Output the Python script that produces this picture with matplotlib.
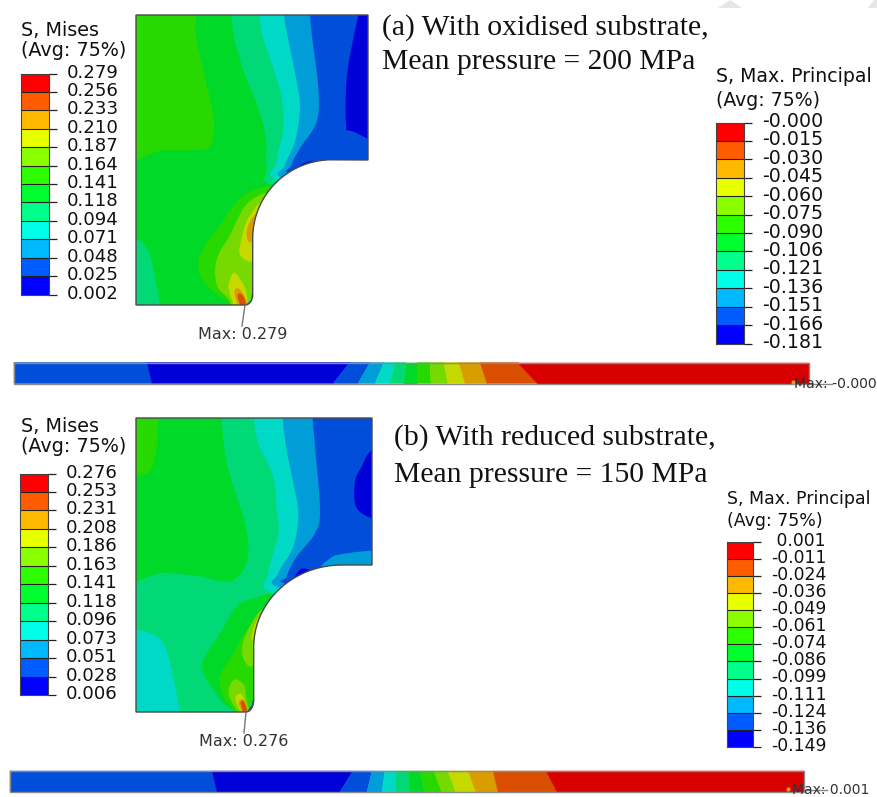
# Abaqus contour plots of the two substrate cases, redrawn on a pixel axis.
import numpy as np
import matplotlib
matplotlib.use("Agg")
import matplotlib.pyplot as plt
from matplotlib.patches import Polygon
from matplotlib.transforms import ScaledTranslation

# Abaqus rainbow, low to high
legend_colors = ['#0000FF', '#005CFF', '#00B9FF', '#00FFE8', '#00FF8B', '#00FF2E',
                 '#2EFF00', '#8BFF00', '#E8FF00', '#FFB900', '#FF5C00', '#FF0000']
# same bands as they look in the model (darker)
band_colors = ['#0000D9', '#004ED9', '#009DD9', '#00D9C5', '#00D976', '#00D927',
               '#27D900', '#76D900', '#C5D900', '#D99D00', '#D94E00', '#D90000']

# legend tick labels, top to bottom
mises_a = ['0.279', '0.256', '0.233', '0.210', '0.187', '0.164', '0.141',
           '0.118', '0.094', '0.071', '0.048', '0.025', '0.002']
mises_b = ['0.276', '0.253', '0.231', '0.208', '0.186', '0.163', '0.141',
           '0.118', '0.096', '0.073', '0.051', '0.028', '0.006']
principal_a = ['-0.000', '-0.015', '-0.030', '-0.045', '-0.060', '-0.075', '-0.090',
               '-0.106', '-0.121', '-0.136', '-0.151', '-0.166', '-0.181']
principal_b = ['0.001', '-0.011', '-0.024', '-0.036', '-0.049', '-0.061', '-0.074',
               '-0.086', '-0.099', '-0.111', '-0.124', '-0.136', '-0.149']

# Contour bands as (band index, outline). Painted in order, clipped to the part.
# Outline points are read in pixels of a 3x crop of each part.
contours_a = [
    (5, [(-60, -60), (800, -60), (800, 1000), (-60, 1000)]),
    (6, [(-60, -60), (195, -60), (195, 60), (205, 130), (228, 230), (250, 330), (250, 395), (225, 432), (100, 436), (-60, 437)]),
    (4, [(303, -60), (305, 30), (315, 110), (345, 210), (385, 310), (408, 400), (410, 490), (440, 545), (800, 600), (800, -60)]),
    (3, [(386, -60), (388, 30), (400, 100), (430, 190), (455, 280), (460, 370), (440, 470), (450, 530), (800, 600), (800, -60)]),
    (2, [(460, -60), (462, 30), (480, 130), (500, 230), (510, 310), (495, 410), (465, 480), (470, 525), (800, 600), (800, -60)]),
    (1, [(538, -60), (540, 30), (548, 110), (565, 250), (560, 350), (510, 430), (485, 480), (495, 515), (800, 600), (800, -60)]),
    (0, [(700, -60), (685, 30), (670, 100), (650, 220), (648, 355), (665, 378), (800, 385), (800, -60)]),
    (0, [(500, 495), (520, 475), (555, 468), (560, 485)]),
    (4, [(-60, 700), (18, 705), (40, 715), (60, 750), (75, 820), (90, 900), (95, 980), (-60, 980)]),
    (6, [(440, 548), (370, 555), (320, 590), (270, 660), (225, 720), (205, 775), (220, 830), (270, 875), (300, 900), (320, 980), (420, 980), (420, 640)]),
    (7, [(425, 568), (380, 575), (340, 610), (300, 690), (265, 750), (255, 800), (265, 850), (300, 890), (330, 980), (420, 980), (420, 640)]),
    (8, [(400, 590), (355, 640), (335, 700), (330, 750), (375, 768), (400, 690)]),
    (9, [(400, 615), (365, 640), (350, 680), (358, 712), (380, 690)]),
    (8, [(298, 830), (312, 803), (332, 825), (348, 860), (360, 960), (330, 950), (298, 860)]),
    (9, [(313, 862), (328, 852), (350, 890), (355, 950), (335, 930)]),
    (10, [(322, 872), (335, 868), (347, 893), (350, 930), (335, 910)]),
    (2, [(368, 865), (362, 885), (350, 900), (360, 930), (400, 880)]),
]
contours_b = [
    (4, [(-60, -60), (800, -60), (800, 1000), (-60, 1000)]),
    (5, [(-60, -60), (275, -60), (275, 25), (285, 130), (310, 230), (345, 340), (355, 420), (340, 480), (295, 515), (200, 498), (100, 488), (-60, 480)]),
    (6, [(-60, -60), (88, -60), (85, 25), (80, 100), (65, 175), (18, 200), (-60, 210)]),
    (3, [(-60, 655), (18, 660), (60, 670), (100, 700), (125, 780), (150, 905), (165, 985), (-60, 985)]),
    (3, [(370, -60), (372, 25), (385, 100), (430, 200), (440, 300), (445, 370), (415, 490), (435, 550), (800, 600), (800, -60)]),
    (2, [(456, -60), (458, 25), (470, 120), (490, 220), (505, 310), (490, 410), (445, 490), (455, 535), (800, 600), (800, -60)]),
    (1, [(546, -60), (548, 25), (555, 110), (570, 300), (555, 370), (500, 440), (470, 500), (478, 525), (800, 600), (800, -60)]),
    (0, [(800, 80), (725, 120), (695, 170), (675, 215), (678, 290), (725, 325), (800, 340)]),
    (2, [(580, 490), (600, 445), (650, 430), (725, 422), (800, 420), (800, 490)]),
    (0, [(495, 500), (515, 476), (545, 485), (510, 500)]),
    (5, [(440, 555), (370, 565), (320, 590), (270, 670), (220, 750), (225, 800), (280, 880), (310, 905), (330, 985), (420, 985), (420, 650)]),
    (6, [(400, 600), (350, 660), (310, 730), (270, 800), (280, 860), (310, 900), (335, 985), (420, 985), (420, 700)]),
    (7, [(400, 600), (365, 640), (338, 700), (342, 750), (368, 768), (400, 700)]),
    (7, [(298, 830), (315, 808), (342, 825), (348, 860), (365, 960), (320, 900), (298, 860)]),
    (8, [(395, 610), (372, 650), (366, 692), (385, 650)]),
    (8, [(316, 866), (335, 852), (352, 900), (360, 950), (335, 910)]),
    (9, [(326, 878), (340, 868), (352, 900), (352, 935), (338, 910)]),
    (10, [(332, 880), (342, 875), (352, 905), (350, 930)]),
    (1, [(372, 870), (366, 885), (355, 903), (366, 930), (410, 890)]),
]

# Strip along the interface: band order and its slanted edges, top and bottom.
strip_bands = [1, 0, 1, 2, 3, 4, 5, 6, 7, 8, 9, 10, 11]
strip_a_top = [147, 350, 370, 384, 395, 406, 417, 430, 444, 459, 480, 518]
strip_a_bottom = [152, 333, 358, 375, 390, 404, 417, 431, 448, 465, 487, 538]
strip_b_top = [212, 353, 372, 385, 396, 408, 420, 434, 448, 468, 493, 546]
strip_b_bottom = [217, 340, 367, 382, 396, 410, 425, 442, 456, 476, 498, 557]

W, H = 878, 797
OUTLINE = '#4a4a4a'


def smooth(points, n=8):
    # closed Catmull-Rom through the read points, contours have no sharp corners
    p = np.array(points, dtype=float)
    if len(p) == 4 and p.min() < 0 and p.max() > 800:
        return p
    t = np.linspace(0, 1, n, endpoint=False)[:, None]
    out = []
    for i in range(len(p)):
        p0, p1, p2, p3 = p[i - 1], p[i], p[(i + 1) % len(p)], p[(i + 2) % len(p)]
        out.append(0.5 * (2 * p1 + (p2 - p0) * t + (2 * p0 - 5 * p1 + 4 * p2 - p3) * t ** 2
                          + (3 * p1 - p0 - 3 * p2 + p3) * t ** 3))
    return np.vstack(out)


def part_outline(left, top, right, step, cx, cy, rx, ry, notch_end, bottom, bottom_x):
    t = np.linspace(-np.pi / 2, -np.pi, 50)
    arc = np.column_stack([cx + rx * np.cos(t), cy + ry * np.sin(t)])
    notch_x = cx - rx
    t2 = np.linspace(0, np.pi / 2, 12)
    fillet = np.column_stack([bottom_x + (notch_x - bottom_x) * np.cos(t2),
                              notch_end + (bottom - notch_end) * np.sin(t2)])
    return np.vstack([[(left, top), (right, top), (right, step)], arc, fillet, [(left, bottom)]])


def draw_part(ax, contours, outline, x0, y0):
    clip = Polygon(outline, closed=True, transform=ax.transData, fill=False)
    ax.add_patch(clip)
    clip.set_edgecolor('none')
    for band, pts in contours:
        p = smooth(pts) / 3.0 + [x0, y0]
        patch = Polygon(p, closed=True, facecolor=band_colors[band], edgecolor='none', zorder=2)
        ax.add_patch(patch)
        patch.set_clip_path(clip)
    ax.add_patch(Polygon(outline, closed=True, fill=False, edgecolor=OUTLINE, lw=1.0, zorder=3))


def draw_strip(ax, top_edges, bottom_edges, left, right, y0, y1):
    tops = [left] + top_edges + [right]
    bottoms = [left] + bottom_edges + [right]
    for i, band in enumerate(strip_bands):
        ax.fill([tops[i], tops[i + 1], bottoms[i + 1], bottoms[i]], [y0, y0, y1, y1],
                color=band_colors[band], lw=0.3, zorder=2)
    ax.plot([left, right, right, left, left], [y0, y0, y1, y1, y0], color='#8a8a8a', lw=1.0, zorder=3)


def draw_legend(fig, labels, left, top, right, bottom, tick_size, title_size, title, tx, ty, tstep):
    ax = fig.add_axes([left / W, 1 - bottom / H, (right - left) / W, (bottom - top) / H])
    ax.bar(np.zeros(12), np.ones(12), bottom=np.arange(12), width=1.0, color=legend_colors,
           edgecolor='none')
    ax.set_xlim(-0.5, 0.5)
    ax.set_ylim(0, 12)
    ax.set_xticks([])
    ax.yaxis.tick_right()
    ax.set_yticks(np.arange(13))
    # a positive value among negatives sits indented by about one space
    shown = [' ' + s if not s.startswith('-') and labels[-1].startswith('-') else s for s in labels]
    ax.set_yticklabels(shown[::-1], fontsize=tick_size, color='#111111', va='center')
    ax.tick_params(axis='y', length=6, width=0.9, color='#222222', pad=7)
    # the labels ride slightly above their ticks
    up = ScaledTranslation(0, 1 / 100, fig.dpi_scale_trans)
    for lbl in ax.get_yticklabels():
        lbl.set_transform(lbl.get_transform() + up)
    for h in range(1, 12):
        ax.axhline(h, color='#222222', lw=0.8)
    for s in ax.spines.values():
        s.set_linewidth(0.8)
        s.set_color('#444444')
    for i, line in enumerate(title):
        fig.text(tx / W, 1 - (ty + i * tstep) / H, line, fontsize=title_size, color='#111111',
                 ha='left', va='center')


fig = plt.figure(figsize=(W / 100, H / 100), dpi=100)
ax = fig.add_axes([0, 0, 1, 1])
ax.set_xlim(0, W)
ax.set_ylim(H, 0)
ax.axis('off')

# faint watermark pieces along the top edge
ax.fill([718, 730, 742], [8, 0, 8], color='#e6e6e6', lw=0)
ax.fill([868, 874, 878, 878], [8, 0, 0, 8], color='#e6e6e6', lw=0)

outline_a = part_outline(136, 15, 368, 160, 331.7, 238.3, 79, 78.5, 295, 305, 245)
outline_b = part_outline(136, 418, 372, 565, 341.7, 647, 88, 82, 700, 712, 246)
draw_part(ax, contours_a, outline_a, 130, 5)
draw_part(ax, contours_b, outline_b, 130, 410)

draw_strip(ax, strip_a_top, strip_a_bottom, 14, 809, 362.5, 383.5)
draw_strip(ax, strip_b_top, strip_b_bottom, 10, 804.5, 771, 792)

draw_legend(fig, mises_a, 21.5, 73.5, 49, 294.5, 13.1, 13.8, ['S, Mises', '(Avg: 75%)'], 21, 30, 20.5)
draw_legend(fig, mises_b, 20, 473.5, 48, 695, 13.1, 13.8, ['S, Mises', '(Avg: 75%)'], 21, 426, 21)
draw_legend(fig, principal_a, 716, 122.5, 744, 343.5, 13.7, 13.6, ['S, Max. Principal', '(Avg: 75%)'], 716, 76, 24)
draw_legend(fig, principal_b, 727, 541.5, 753, 747, 12.4, 12.5, ['S, Max. Principal', '(Avg: 75%)'], 727, 498.5, 23)

# max markers
ax.plot([245, 242], [305, 326], color='#777777', lw=1.0, zorder=4)
ax.plot([246, 244], [712, 733], color='#777777', lw=1.0, zorder=4)
ax.text(198, 334, 'Max: 0.279', fontsize=11.5, color='#333333', va='center', ha='left')
ax.text(199, 741, 'Max: 0.276', fontsize=11.5, color='#333333', va='center', ha='left')
ax.plot([809, 832], [383.5, 383.5], color='#888888', lw=1.0, zorder=4)
ax.plot([804, 827], [790, 790], color='#888888', lw=1.0, zorder=4)
ax.plot([793], [382], 'o', ms=2, color='#E0A020', zorder=5)
ax.plot([788], [789], 'o', ms=2, color='#E0A020', zorder=5)
ax.text(794, 384, 'Max: -0.000', fontsize=10.1, color='#333333', va='center', ha='left', zorder=6)
ax.text(792, 790, 'Max: 0.001', fontsize=10.0, color='#333333', va='center', ha='left', zorder=6)

# case captions
serif = 'Liberation Serif'
ax.text(382, 28, '(a) With oxidised substrate,', family=serif, fontsize=21.3, color='#111111', va='center')
ax.text(382, 62, 'Mean pressure = 200 MPa', family=serif, fontsize=21.3, color='#111111', va='center')
ax.text(394, 438, '(b) With reduced substrate,', family=serif, fontsize=21.3, color='#111111', va='center')
ax.text(394, 475, 'Mean pressure = 150 MPa', family=serif, fontsize=21.3, color='#111111', va='center')

fig.savefig('out.png', dpi=100)
